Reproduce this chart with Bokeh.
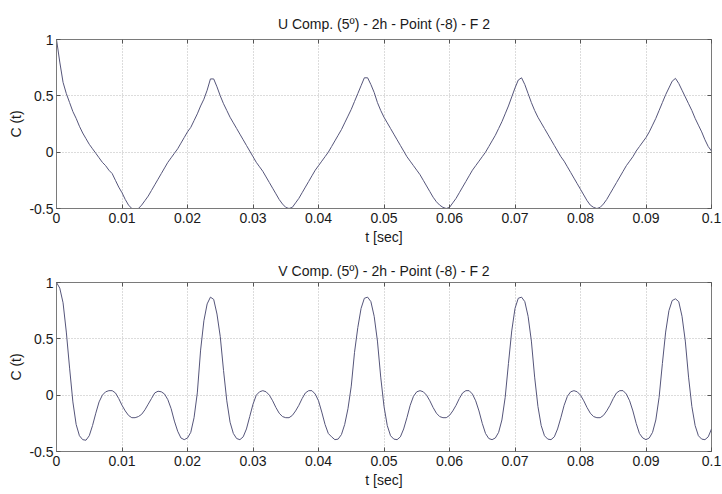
from bokeh.plotting import figure
from bokeh.models import Range1d, LinearAxis, FixedTicker
from bokeh.layouts import column
from bokeh.embed import file_html
from bokeh.resources import INLINE

# sampling grid of the correlation curves (sec)
T = [round(i * 0.0005, 4) for i in range(201)]

U_CORR = [1.00, 0.80, 0.62, 0.52, 0.44, 0.36, 0.30, 0.23, 0.17, 0.12,
          0.07, 0.03, -0.01, -0.05, -0.09, -0.12, -0.16, -0.19, -0.25, -0.31,
          -0.36, -0.42, -0.47, -0.50, -0.51, -0.50, -0.47, -0.43, -0.39, -0.34,
          -0.29, -0.24, -0.19, -0.14, -0.09, -0.05, -0.01, 0.03, 0.08, 0.13,
          0.18, 0.22, 0.28, 0.34, 0.41, 0.47, 0.55, 0.65, 0.65, 0.58,
          0.50, 0.43, 0.37, 0.31, 0.26, 0.21, 0.16, 0.11, 0.06, 0.01,
          -0.04, -0.09, -0.13, -0.17, -0.22, -0.27, -0.32, -0.37, -0.42, -0.46,
          -0.49, -0.50, -0.49, -0.45, -0.41, -0.36, -0.31, -0.26, -0.21, -0.16,
          -0.12, -0.08, -0.04, 0.00, 0.05, 0.10, 0.15, 0.20, 0.26, 0.32,
          0.38, 0.45, 0.52, 0.59, 0.66, 0.66, 0.60, 0.53, 0.44, 0.37,
          0.31, 0.26, 0.21, 0.16, 0.11, 0.06, 0.01, -0.04, -0.08, -0.12,
          -0.16, -0.20, -0.25, -0.30, -0.35, -0.40, -0.44, -0.47, -0.49, -0.50,
          -0.49, -0.45, -0.41, -0.36, -0.31, -0.26, -0.21, -0.16, -0.12, -0.08,
          -0.04, 0.00, 0.05, 0.10, 0.15, 0.21, 0.27, 0.34, 0.41, 0.49,
          0.57, 0.64, 0.66, 0.60, 0.52, 0.44, 0.37, 0.31, 0.26, 0.21,
          0.16, 0.11, 0.06, 0.01, -0.04, -0.08, -0.13, -0.18, -0.23, -0.28,
          -0.33, -0.38, -0.43, -0.47, -0.49, -0.50, -0.49, -0.46, -0.42, -0.37,
          -0.32, -0.27, -0.22, -0.17, -0.12, -0.08, -0.04, 0.01, 0.05, 0.09,
          0.13, 0.18, 0.24, 0.30, 0.37, 0.44, 0.51, 0.57, 0.63, 0.655,
          0.61, 0.55, 0.49, 0.43, 0.37, 0.30, 0.24, 0.18, 0.11, 0.05,
          0.01]

V_CORR = [1.00, 0.95, 0.82, 0.56, 0.24, -0.06, -0.26, -0.36, -0.395, -0.40,
          -0.36, -0.27, -0.16, -0.06, 0.00, 0.03, 0.04, 0.04, 0.02, -0.03,
          -0.09, -0.14, -0.18, -0.20, -0.20, -0.19, -0.17, -0.13, -0.08, -0.03,
          0.02, 0.035, 0.03, 0.01, -0.04, -0.12, -0.23, -0.32, -0.38, -0.395,
          -0.38, -0.33, -0.20, 0.02, 0.40, 0.66, 0.81, 0.87, 0.85, 0.72,
          0.52, 0.22, -0.05, -0.24, -0.34, -0.385, -0.395, -0.37, -0.30, -0.19,
          -0.08, 0.00, 0.03, 0.04, 0.03, 0.00, -0.05, -0.11, -0.16, -0.19,
          -0.20, -0.20, -0.18, -0.14, -0.09, -0.03, 0.02, 0.04, 0.04, 0.01,
          -0.05, -0.15, -0.26, -0.34, -0.37, -0.395, -0.39, -0.35, -0.26, -0.12,
          0.08, 0.38, 0.60, 0.77, 0.86, 0.87, 0.83, 0.70, 0.48, 0.16,
          -0.10, -0.27, -0.36, -0.39, -0.395, -0.37, -0.30, -0.20, -0.09, -0.01,
          0.03, 0.04, 0.03, 0.00, -0.05, -0.11, -0.16, -0.19, -0.20, -0.20,
          -0.18, -0.14, -0.09, -0.03, 0.02, 0.04, 0.04, 0.01, -0.05, -0.14,
          -0.25, -0.34, -0.385, -0.395, -0.38, -0.33, -0.22, -0.02, 0.28, 0.57,
          0.77, 0.86, 0.87, 0.83, 0.70, 0.48, 0.16, -0.10, -0.27, -0.36,
          -0.39, -0.395, -0.37, -0.30, -0.20, -0.09, -0.01, 0.03, 0.04, 0.03,
          0.00, -0.05, -0.11, -0.16, -0.19, -0.20, -0.20, -0.18, -0.14, -0.09,
          -0.03, 0.02, 0.04, 0.04, 0.01, -0.05, -0.14, -0.25, -0.34, -0.38,
          -0.395, -0.38, -0.33, -0.22, -0.02, 0.28, 0.56, 0.75, 0.84, 0.855,
          0.83, 0.70, 0.48, 0.16, -0.10, -0.27, -0.36, -0.39, -0.395, -0.37,
          -0.30]

X_TICKS = [0, 0.01, 0.02, 0.03, 0.04, 0.05, 0.06, 0.07, 0.08, 0.09, 0.1]
X_TICK_LABELS = ["0", "0.01", "0.02", "0.03", "0.04", "0.05", "0.06", "0.07", "0.08", "0.09", "0.1"]
Y_TICKS = [-0.5, 0, 0.5, 1]
Y_TICK_LABELS = ["-0.5", "0", "0.5", "1"]

TITLE_U = "U Comp. (5º) - 2h - Point (-8) - F 2"
TITLE_V = "V Comp. (5º) - 2h - Point (-8) - F 2"
X_LABEL = "t [sec]"
Y_LABEL = "C (t)"

FONT = "Liberation Sans"
TXT = "#1a1a1a"
BOX = "#7a7a7a"
LINE = "#55557a"


def make_fig(title, values, height, top, bottom, title_standoff):
    p = figure(width=722, height=height, output_backend="svg", toolbar_location=None,
               x_range=Range1d(0, 0.1), y_range=Range1d(-0.5, 1),
               min_border_left=56, min_border_right=11,
               min_border_top=top, min_border_bottom=bottom)
    p.background_fill_color = "white"
    p.border_fill_color = "white"
    p.outline_line_color = BOX
    p.outline_line_width = 1

    p.title.text = title
    p.title.align = "center"
    p.title.text_font = FONT
    p.title.text_font_size = "14px"
    p.title.text_font_style = "normal"
    p.title.text_color = TXT
    p.title.standoff = title_standoff

    xt = FixedTicker(ticks=X_TICKS)
    yt = FixedTicker(ticks=Y_TICKS)

    for ax, tk, labs, lab in ((p.xaxis[0], xt, dict(zip(X_TICKS, X_TICK_LABELS)), X_LABEL),
                              (p.yaxis[0], yt, dict(zip(Y_TICKS, Y_TICK_LABELS)), Y_LABEL)):
        ax.ticker = tk
        ax.major_label_overrides = labs
        ax.minor_tick_line_color = None
        ax.major_tick_in = 4
        ax.major_tick_out = 0
        ax.major_tick_line_color = "#555555"
        ax.axis_line_color = BOX
        ax.major_label_text_font = FONT
        ax.major_label_text_font_size = "14px"
        ax.major_label_text_color = TXT
        ax.axis_label = lab
        ax.axis_label_text_font = FONT
        ax.axis_label_text_font_size = "14px"
        ax.axis_label_text_font_style = "normal"
        ax.axis_label_text_color = TXT
    p.xaxis[0].major_label_standoff = 4
    p.xaxis[0].axis_label_standoff = 3
    p.yaxis[0].major_label_standoff = 3
    p.yaxis[0].axis_label_standoff = 2

    for loc, tk in (("above", xt), ("right", yt)):
        ax = LinearAxis(ticker=tk)
        ax.minor_tick_line_color = None
        ax.major_tick_in = 4
        ax.major_tick_out = 0
        ax.major_tick_line_color = "#555555"
        ax.axis_line_color = None
        ax.major_label_text_font_size = "0px"
        ax.major_label_text_alpha = 0
        ax.major_label_standoff = 0
        p.add_layout(ax, loc)

    p.xgrid.ticker = xt
    p.ygrid.ticker = yt
    for g in (p.xgrid[0], p.ygrid[0]):
        g.grid_line_color = "#b8b8b8"
        g.grid_line_dash = "1 2"
        g.grid_line_width = 1

    p.line(T, values, line_color=LINE, line_width=1)
    return p


p1 = make_fig(TITLE_U, U_CORR, 252, 39, 44, 16)
p2 = make_fig(TITLE_V, V_CORR, 242, 30, 43, 7)

layout = column(p1, p2, spacing=0)
open("out.html", "w").write(file_html(layout, INLINE))
